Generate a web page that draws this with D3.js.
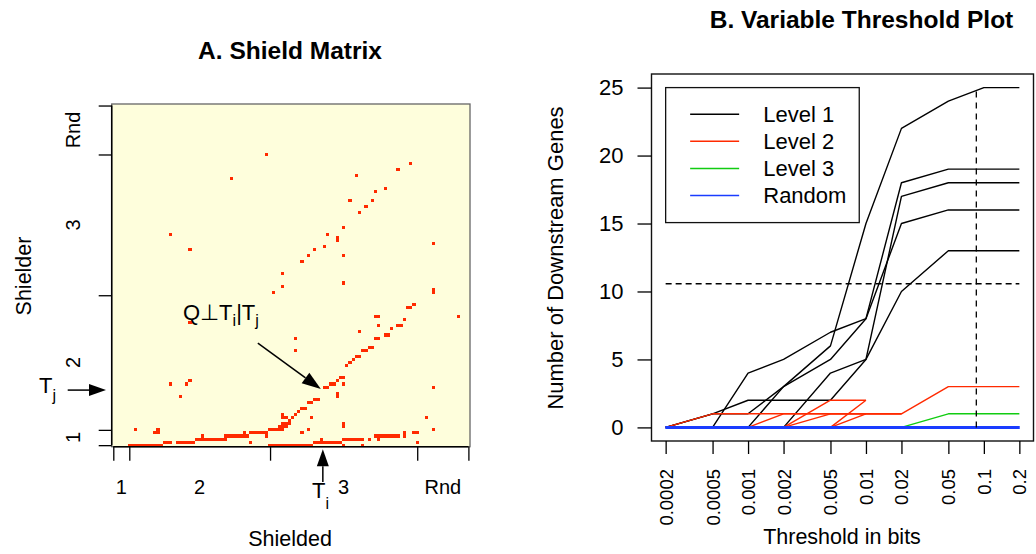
<!DOCTYPE html>
<html>
<head>
<meta charset="utf-8">
<script src="https://cdn.jsdelivr.net/npm/d3@7"></script>
<style>
  body { margin: 0; background: #fff; }
  svg { font-family: "Liberation Sans", Arial, Helvetica, sans-serif; }
</style>
</head>
<body>
<svg id="chart" width="1036" height="554"></svg>
<script>
// ---------- Panel A: shield matrix ----------
const nGenes = 112;
const groupLabels = ["1", "2", "3", "Rnd"];
const groupBounds = [1, 6, 50, 96, 112];
// red cells: [shielded index, shielder index, run width, run height]
const shieldCells = [
  [49,96],[38,88],[19,70],[25,65],[54,57],[51,51],[54,53],[73,54],
  [94,93],[90,91],[77,89],[86,85],[83,84],[75,81],[82,81],[80,79],[78,77],
  [73,72],[68,70],[71,68,1,2],[67,66],[64,65],[73,63],[62,63],[60,61],
  [101,67],[101,51,1,2],[95,47],[93,46,2],
  [25,41],[19,21],[24,21],[25,22],[22,17],[8,6],[14,5],[15,5],[15,6],
  [58,36],[58,32],[83,43,2],[109,43],[92,42],[84,40],[90,40,2],[88,39],[78,38],
  [86,37,2],[83,36,2],[81,33,2],[79,32,2],[77,30,2],[76,29],[75,28],[74,27],
  [72,23,2],[71,22],[69,21,2],[73,21],[67,20,2],[71,17,1,2],[64,16,2],[62,15,2],
  [60,13,2],[59,12],[58,11],[57,10],[63,10],[99,10],[101,20],[73,7,1,2],
  [101,6],[62,6],[60,5],[66,3],[92,4,1,2],[95,5,2],
  [83,4,5],[88,4,3],[73,3,7],[81,3],[84,3],[64,2,9],[96,2],[50,1,14],[73,1],[79,1],
  [6,1,11],[17,2,3],[21,2,6],[27,3,10],[29,4],[36,4,8],[42,5],[44,2],[44,5,6],[49,4],
  [50,6,5],[53,7,3],[54,10,2],[54,11],[56,9],[54,8,3]
];
const TI = 66.5, TJ = 19;

// ---------- Panel B: variable threshold plot ----------
const thresholds = [0.0002, 0.0005, 0.001, 0.002, 0.005, 0.01, 0.02, 0.05, 0.1, 0.2];
const thresholdLabels = ["0.0002", "0.0005", "0.001", "0.002", "0.005", "0.01", "0.02", "0.05", "0.1", "0.2"];
const yTicks = [0, 5, 10, 15, 20, 25];
const level1 = [
  [0, 0, 0, 3, 6, 15, 22, 24, 25, 25],
  [0, 0, 4, 5, 7, 8, 18, 19, 19, 19],
  [0, 1, 1, 3, 5, 8, 15, 16, 16, 16],
  [0, 1, 2, 2, 2, 5, 17, 18, 18, 18],
  [0, 0, 0, 0, 4, 5, 10, 13, 13, 13]
];
const level2 = [
  [0, 1, 1, 1, 1, 1, 1, 3, 3, 3],
  [0, 0, 0, 1, 1, 1, 1, null, null, null],
  [0, 0, 0, 0, 2, 2, null, null, null, null],
  [0, 0, 0, 0, 1, 1, null, null, null, null],
  [0, 0, 0, 0, 0, 2, null, null, null, null],
  [0, 0, 0, 0, 0, 1, 1, null, null, null]
];
const level3 = [
  [0, 0, 0, 0, 0, 0, 0, 1, 1, 1]
];
const randomSets = [
  [0, 0, 0, 0, 0, 0, 0, 0, 0, 0],
  [0, 0, 0, 0, 0, 0, 0, 0, 0, 0],
  [0, 0, 0, 0, 0, 0, 0, 0, 0, 0]
];
const cutThreshold = 0.0863;
const cutGenes = 10.57;
const legendNames = ["Level 1", "Level 2", "Level 3", "Random"];
const legendColors = ["#000000", "#ff2a00", "#11cc11", "#1a3cff"];

const svg = d3.select('#chart');
const RED = '#ff2a00';

// ===== Panel A =====
const A = {left: 111.7, right: 470, top: 104, bottom: 446.7};
const ax = d3.scaleLinear().domain([0.5, nGenes + 0.5]).range([A.left, A.right]);
const ay = d3.scaleLinear().domain([0.5, nGenes + 0.5]).range([A.bottom, A.top]);
const gA = svg.append('g');

gA.append('rect')
  .attr('x', A.left).attr('y', A.top)
  .attr('width', A.right - A.left).attr('height', A.bottom - A.top)
  .attr('fill', '#fefedc').attr('stroke', '#666').attr('stroke-width', 1.3);

gA.selectAll('rect.cell')
  .data(shieldCells)
  .join('rect')
  .attr('class', 'cell')
  .attr('x', d => ax(d[0] - 0.5))
  .attr('y', d => ay(d[1] - 0.5 + (d[3] || 1)))
  .attr('width', d => ax(d[0] - 0.5 + (d[2] || 1)) - ax(d[0] - 0.5))
  .attr('height', d => ay(d[1] - 0.5) - ay(d[1] - 0.5 + (d[3] || 1)))
  .attr('fill', RED)
  .attr('shape-rendering', 'crispEdges');

const aLeft = gA.append('g')
  .attr('transform', `translate(${A.left},0)`)
  .call(d3.axisLeft(ay).tickValues(groupBounds).tickFormat('').tickSize(13).tickSizeOuter(0));
aLeft.select('.domain').remove();
aLeft.selectAll('line').attr('stroke-width', 1.3);
gA.append('line')
  .attr('x1', A.left).attr('x2', A.left)
  .attr('y1', ay(groupBounds[0])).attr('y2', ay(groupBounds[groupBounds.length - 1]))
  .attr('stroke', '#000').attr('stroke-width', 1.5);

const aBottom = gA.append('g')
  .attr('transform', `translate(0,${A.bottom})`)
  .call(d3.axisBottom(ax).tickValues(groupBounds).tickFormat('').tickSize(14).tickSizeOuter(0));
aBottom.select('.domain').remove();
aBottom.selectAll('line').attr('stroke-width', 1.3);
gA.append('line')
  .attr('x1', ax(groupBounds[0])).attr('x2', ax(groupBounds[groupBounds.length - 1]))
  .attr('y1', A.bottom).attr('y2', A.bottom)
  .attr('stroke', '#000').attr('stroke-width', 1.5);

const mids = groupLabels.map((l, k) => (groupBounds[k] + groupBounds[k + 1]) / 2);
gA.selectAll('text.xlab')
  .data(groupLabels)
  .join('text')
  .attr('class', 'xlab')
  .attr('x', (d, k) => ax(mids[k]))
  .attr('y', 494)
  .attr('text-anchor', 'middle')
  .attr('font-size', 20)
  .text(d => d);
gA.selectAll('text.ylab')
  .data(groupLabels)
  .join('text')
  .attr('class', 'ylab')
  .attr('transform', (d, k) => `translate(73,${ay(mids[k])}) rotate(-90)`)
  .attr('dy', '0.35em')
  .attr('text-anchor', 'middle')
  .attr('font-size', 20)
  .text(d => d);

gA.append('text')
  .attr('x', 290).attr('y', 59)
  .attr('text-anchor', 'middle')
  .attr('font-size', 24.5).attr('font-weight', 'bold')
  .text('A. Shield Matrix');
gA.append('text')
  .attr('x', 290).attr('y', 546)
  .attr('text-anchor', 'middle')
  .attr('font-size', 21.5)
  .text('Shielded');
gA.append('text')
  .attr('transform', 'translate(31,276) rotate(-90)')
  .attr('text-anchor', 'middle')
  .attr('font-size', 21.5)
  .text('Shielder');

// arrows
function arrow(g, x1, y1, x2, y2, len, half) {
  const ang = Math.atan2(y2 - y1, x2 - x1);
  const bx0 = x2 - len * Math.cos(ang), by0 = y2 - len * Math.sin(ang);
  g.append('line')
    .attr('x1', x1).attr('y1', y1).attr('x2', bx0).attr('y2', by0)
    .attr('stroke', '#000').attr('stroke-width', 1.5);
  const px = -Math.sin(ang) * half, py = Math.cos(ang) * half;
  g.append('path')
    .attr('d', `M${x2},${y2}L${bx0 + px},${by0 + py}L${bx0 - px},${by0 - py}Z`)
    .attr('fill', '#000');
}
// Q annotation arrow towards (Ti, Tj)
const qTipX = ax(TI) - 2, qTipY = ay(TJ) - 1;
arrow(gA, qTipX - 63, qTipY - 46, qTipX, qTipY, 19, 6.5);
// Tj arrow
arrow(gA, 67.7, ay(TJ), 106, ay(TJ), 17, 6);
// Ti arrow
arrow(gA, ax(TI), 482, ax(TI), 449.3, 17, 6);

const qLab = gA.append('text').attr('x', 183).attr('y', 320).attr('font-size', 22);
qLab.append('tspan').text('Q\u22A5T');
qLab.append('tspan').attr('dy', 6).attr('font-size', 16).text('i');
qLab.append('tspan').attr('dy', -6).text('|T');
qLab.append('tspan').attr('dy', 6).attr('font-size', 16).text('j');

const tjLab = gA.append('text').attr('x', 39).attr('y', 393).attr('font-size', 22);
tjLab.append('tspan').text('T');
tjLab.append('tspan').attr('dy', 8).attr('font-size', 16).text('j');

const tiLab = gA.append('text').attr('x', 312).attr('y', 498).attr('font-size', 22);
tiLab.append('tspan').text('T');
tiLab.append('tspan').attr('dy', 11).attr('font-size', 16).text('i');

// ===== Panel B =====
const B = {left: 651.5, right: 1033.5, top: 74, bottom: 441};
const padX = (B.right - B.left) * 0.04 / 1.08;
const padY = (B.bottom - B.top) * 0.04 / 1.08;
const bx = d3.scaleLog()
  .domain([thresholds[0], thresholds[thresholds.length - 1]])
  .range([B.left + padX, B.right - padX]);
const by = d3.scaleLinear()
  .domain([0, 25])
  .range([B.bottom - padY, B.top + padY]);
const gB = svg.append('g');

const line = d3.line()
  .defined(d => d[1] != null)
  .x(d => bx(d[0]))
  .y(d => by(d[1]));

function drawSeries(sets, color, width) {
  gB.append('g').selectAll('path')
    .data(sets)
    .join('path')
    .attr('d', s => line(thresholds.map((t, k) => [t, s[k]])))
    .attr('fill', 'none')
    .attr('stroke', color)
    .attr('stroke-width', width)
    .attr('stroke-linejoin', 'round');
}
drawSeries(level1, legendColors[0], 1.4);
drawSeries(level2, legendColors[1], 1.4);
drawSeries(level3, legendColors[2], 1.4);
drawSeries(randomSets, legendColors[3], 3);

// cut-off lines
gB.append('line')
  .attr('x1', bx(cutThreshold)).attr('x2', bx(cutThreshold))
  .attr('y1', by(0)).attr('y2', by(25))
  .attr('stroke', '#000').attr('stroke-width', 1.3).attr('stroke-dasharray', '6,5');
gB.append('line')
  .attr('x1', bx(thresholds[0])).attr('x2', bx(thresholds[thresholds.length - 1]))
  .attr('y1', by(cutGenes)).attr('y2', by(cutGenes))
  .attr('stroke', '#000').attr('stroke-width', 1.3).attr('stroke-dasharray', '6,4');

gB.append('rect')
  .attr('x', B.left).attr('y', B.top)
  .attr('width', B.right - B.left).attr('height', B.bottom - B.top)
  .attr('fill', 'none').attr('stroke', '#111').attr('stroke-width', 1.4);

const bLeft = gB.append('g')
  .attr('transform', `translate(${B.left},0)`)
  .call(d3.axisLeft(by).tickValues(yTicks).tickSize(14).tickPadding(14).tickSizeOuter(0));
bLeft.select('.domain').remove();
bLeft.selectAll('line').attr('stroke-width', 1.3);
bLeft.selectAll('text').attr('font-size', 22).attr('font-family', null).attr('fill', '#000');

const bBottom = gB.append('g')
  .attr('transform', `translate(0,${B.bottom})`)
  .call(d3.axisBottom(bx).tickValues(thresholds).tickFormat((d, k) => thresholdLabels[k]).tickSize(13).tickSizeOuter(0));
bBottom.select('.domain').remove();
bBottom.selectAll('line').attr('stroke-width', 1.3);
bBottom.selectAll('text')
  .attr('font-size', 18.5).attr('font-family', null).attr('fill', '#000')
  .attr('text-anchor', 'end')
  .attr('transform', 'translate(0,28) rotate(-90)')
  .attr('x', 0).attr('y', 0).attr('dy', '0.35em');

gB.append('text')
  .attr('x', 842).attr('y', 544)
  .attr('text-anchor', 'middle').attr('font-size', 21.5)
  .text('Threshold in bits');
gB.append('text')
  .attr('transform', 'translate(563,258) rotate(-90)')
  .attr('text-anchor', 'middle').attr('font-size', 22)
  .text('Number of Downstream Genes');
gB.append('text')
  .attr('x', 861.5).attr('y', 27.5)
  .attr('text-anchor', 'middle')
  .attr('font-size', 24.5).attr('font-weight', 'bold')
  .text('B. Variable Threshold Plot');

// legend anchored at the top-left data corner
const lgX = bx(thresholds[0]), lgY = by(25);
const lg = gB.append('g').attr('transform', `translate(${lgX},${lgY})`);
lg.append('rect')
  .attr('width', 193.6).attr('height', 135)
  .attr('fill', '#fff').attr('stroke', '#111').attr('stroke-width', 1.3);
const rows = lg.selectAll('g.row')
  .data(legendNames)
  .join('g')
  .attr('class', 'row')
  .attr('transform', (d, k) => `translate(0,${26.6 + k * 27.1})`);
rows.append('line')
  .attr('x1', 24.5).attr('x2', 73.5)
  .attr('stroke', (d, k) => legendColors[k]).attr('stroke-width', 1.5);
rows.append('text')
  .attr('x', 97.6).attr('dy', '0.35em')
  .attr('font-size', 22)
  .text(d => d);
</script>
</body>
</html>
